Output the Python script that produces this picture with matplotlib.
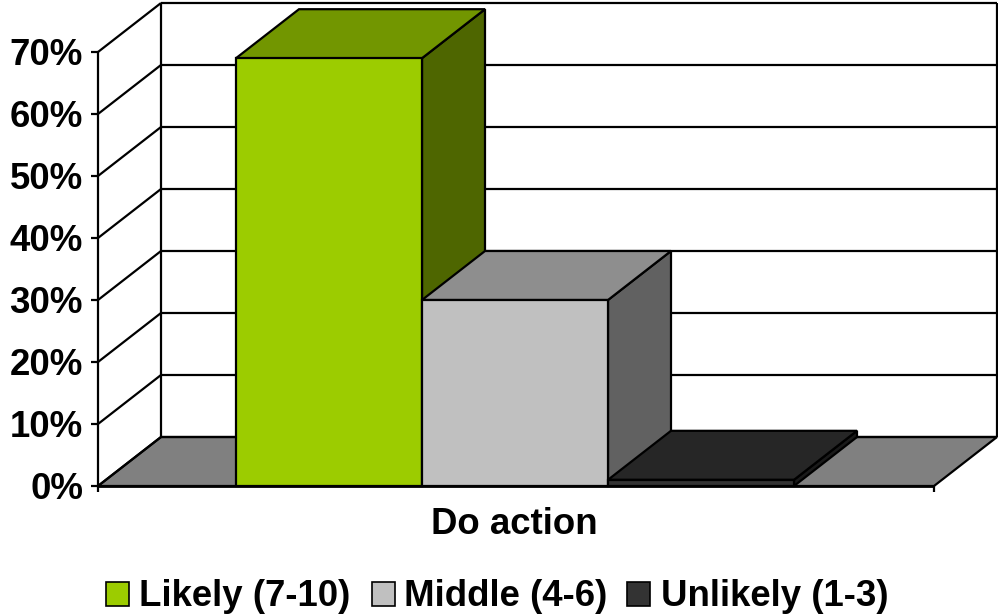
import numpy as np
import matplotlib
matplotlib.use('Agg')
import matplotlib.pyplot as plt
from matplotlib.patches import Polygon, Rectangle

plt.rcParams['font.family'] = ['Liberation Sans', 'DejaVu Sans']

# Chart values
series_names = ['Likely (7-10)', 'Middle (4-6)', 'Unlikely (1-3)']
series_values = [69, 30, 1]
category = 'Do action'
y_ticks = [0, 10, 20, 30, 40, 50, 60, 70]

front_colors = ['#9ccc00', '#c0c0c0', '#333333']
top_colors = ['#729600', '#8e8e8e', '#262626']
side_colors = ['#4e6600', '#616161', '#1a1a1a']

W, H = 998, 614
FS = 26.4
fig = plt.figure(figsize=(W / 100, H / 100), dpi=100, facecolor='white')

# Front plane of the 3D box, the wall and bars get offset from it
ax = fig.add_axes([98 / W, 1 - 486 / H, 836 / W, 434 / H])
ax.set_xlim(0, 836 / 186)
ax.set_ylim(0, 70)
ax.axis('off')

dx = 63 / 186
dy = 49 / 6.2
gap = 138 / 186
x_max = 836 / 186
LW = 1.6


def poly(pts, color, z=1):
    ax.add_patch(Polygon(pts, closed=True, facecolor=color, edgecolor='black',
                         linewidth=LW, joinstyle='miter', clip_on=False, zorder=z))


def line(xs, ys, z=2, lw=LW):
    ax.plot(xs, ys, color='black', linewidth=lw, clip_on=False, zorder=z,
            solid_capstyle='butt')


# Floor
poly([(0, 0), (x_max, 0), (x_max + dx, dy), (dx, dy)], '#808080', 1)

# Walls and gridlines
for t in y_ticks:
    line([dx, x_max + dx], [t + dy, t + dy], 2)
    line([0, dx], [t, t + dy], 2)
    line([-7 / 186, 0], [t, t], 2)
    ax.text(-15 / 186, t + 0.15, f'{t}%', ha='right', va='center_baseline', fontsize=FS,
            fontweight='bold', color='black', clip_on=False)
line([0, 0], [0, 70], 3)
line([dx, dx], [0 + dy, 70 + dy], 2)
line([x_max + dx, x_max + dx], [dy, 70 + dy], 2)

# Bars, drawn left to right so each one covers the side of nothing behind it
for i, v in enumerate(series_values):
    x0 = gap + i
    x1 = x0 + 1
    z = 5 + i
    poly([(x1, 0), (x1 + dx, dy), (x1 + dx, v + dy), (x1, v)], side_colors[i], z)
    poly([(x0, v), (x1, v), (x1 + dx, v + dy), (x0 + dx, v + dy)], top_colors[i], z)
    poly([(x0, 0), (x1, 0), (x1, v), (x0, v)], front_colors[i], z)

# Base line and end ticks
line([0, x_max], [0, 0], 12, lw=2.0)
line([0, 0], [-1.0, 0], 12)
line([x_max, x_max], [-1.0, 0], 12)

fig.text(514 / W, 1 - 525 / H, category, ha='center', va='center', fontsize=FS,
         fontweight='bold')

# Legend placed by hand along the bottom
legend_boxes = [106, 372, 627]
legend_text = [139, 404, 661]
for name, color, bx, tx in zip(series_names, front_colors, legend_boxes, legend_text):
    fig.add_artist(Rectangle((bx / W, 1 - 606 / H), 23 / W, 24 / H, transform=fig.transFigure,
                             facecolor=color, edgecolor='black', linewidth=1.2))
    fig.text(tx / W, 1 - 597 / H, name, ha='left', va='center', fontsize=FS,
             fontweight='bold')

fig.savefig('out.png', dpi=100, facecolor='white')
